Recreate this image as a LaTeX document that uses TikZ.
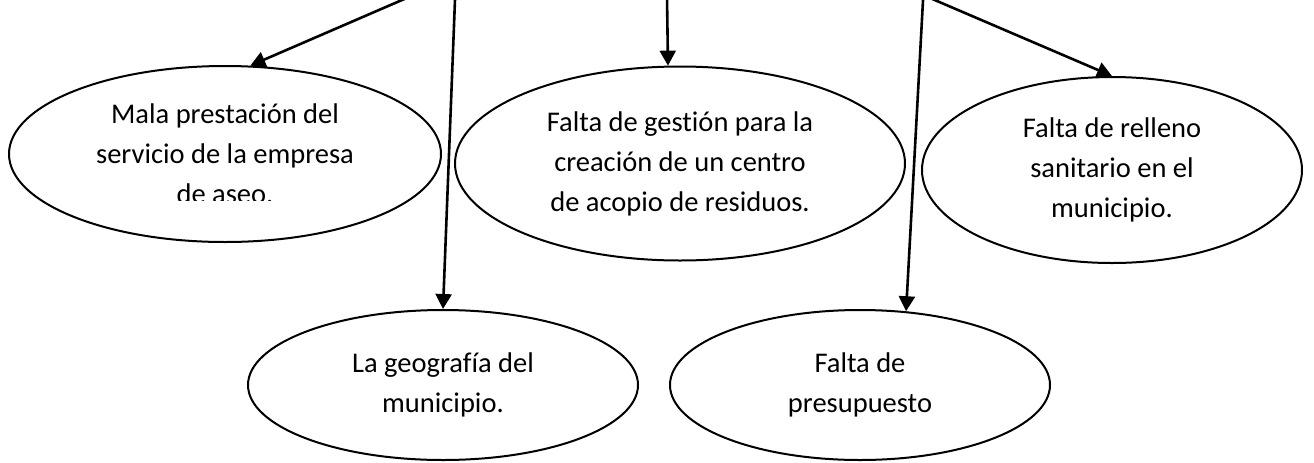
\documentclass[tikz,border=0pt]{standalone}
\usepackage{fontspec}
\setmainfont{Carlito}[Ligatures=CommonOff]
\usetikzlibrary{shapes.geometric,arrows.meta}

\begin{document}
\begin{tikzpicture}[x=0.5pt,y=-0.5pt,
    causa/.style={ellipse,draw,line width=1pt,inner sep=0pt,align=center,
      font=\fontsize{14.25}{20}\selectfont},
    flecha/.style={draw,line width=1.3pt,-{Triangle[width=8pt,length=7.5pt]}}]
  \useasboundingbox (0,0) rectangle (1314,462);

  % primera fila
  \node[causa,minimum width=216pt,minimum height=88pt] (mala) at (225,154)
    {Mala prestación del\\servicio de la empresa\\de aseo.};
  \node[causa,minimum width=225pt,minimum height=97pt] (gestion) at (680,163.5)
    {Falta de gestión para la\\creación de un centro\\de acopio de residuos.};
  \node[causa,minimum width=190pt,minimum height=93pt] (relleno) at (1112,170)
    {Falta de relleno\\sanitario en el\\municipio.};

  % segunda fila
  \node[causa,minimum width=195pt,minimum height=75pt] (geografia) at (443,385)
    {La geografía del\\municipio.};
  \node[causa,minimum width=190pt,minimum height=75pt] (presupuesto) at (860,385)
    {Falta de\\presupuesto};

  % la ultima linea queda cortada
  \fill[white] (160,200.5) rectangle (290,216);

  \coordinate (arriba1) at (409,-3);
  \coordinate (arriba2) at (455.1,-3);
  \coordinate (arriba3) at (667,-3);
  \coordinate (arriba4) at (923.2,-3);
  \coordinate (arriba5) at (927.7,-3);

  \path[flecha] (arriba1) -- (mala.74);
  \path[flecha] (arriba2) -- (geografia.north);
  \path[flecha] (arriba3) -- (gestion.97);
  \path[flecha] (arriba4) -- (presupuesto.58);
  \path[flecha] (arriba5) -- (relleno.north);
\end{tikzpicture}
\end{document}
